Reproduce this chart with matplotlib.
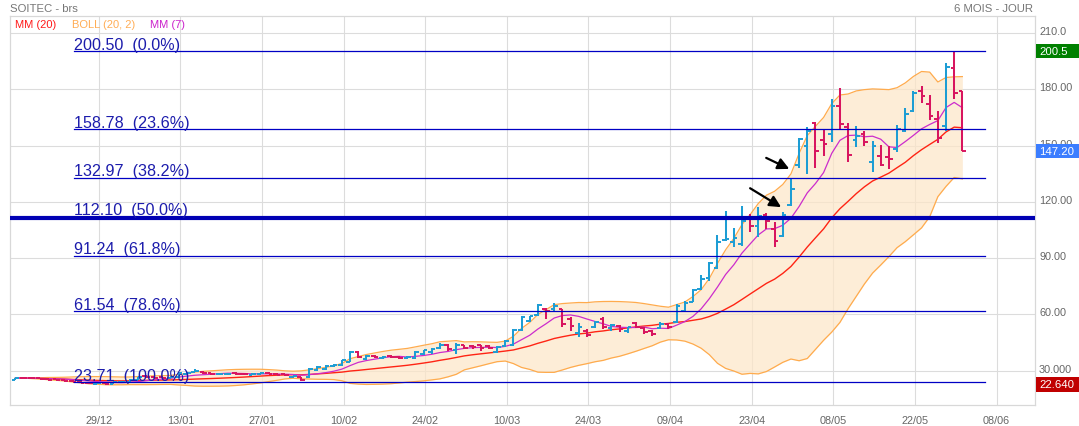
import matplotlib
matplotlib.use('Agg')
import matplotlib.pyplot as plt
import numpy as np
import pandas as pd
from matplotlib import transforms
from matplotlib.patches import Rectangle

plt.rcParams['font.family'] = ['Liberation Sans', 'DejaVu Sans']

# ---------------- data ----------------
opens = [25.2, 26.3, 26.0, 25.8, 25.6, 25.3, 25.0, 24.6, 24.0, 23.6,
         23.0, 23.4, 23.0, 23.7, 23.9, 25.0, 27.2, 26.8, 26.5, 26.0,
         26.5, 28.3, 29.2, 29.4, 28.6, 28.0, 28.2, 28.6, 28.4, 27.9,
         28.2, 28.9, 28.3, 28.0, 26.6, 26.6, 26.4, 30.2, 31.0, 32.3,
         33.0, 34.6, 40.0, 36.0, 37.8, 36.8, 37.8, 37.3, 36.6, 36.8,
         39.0, 39.8, 41.8, 43.8, 41.0, 43.6, 43.3, 43.5, 43.2, 40.0,
         43.0, 43.5, 51.5, 56.2, 59.5, 63.0, 62.8, 62.8, 57.5, 49.9,
         51.3, 53.1, 57.5, 52.5, 54.0, 51.0, 55.5, 52.8, 51.0, 52.8,
         54.8, 55.8, 62.0, 66.5, 73.5, 79.3, 85.0, 99.6, 98.5, 97.6,
         110.9, 107.4, 113.1, 105.6, 102.0, 118.4, 139.7, 150.1, 162.0, 153.0,
         156.3, 171.4, 159.8, 153.0, 156.3, 141.5, 144.4, 144.0, 148.3, 158.0,
         168.7, 179.4, 172.3, 164.3, 160.4, 191.5, 179.4]
highs = [26.2, 26.6, 26.4, 26.2, 25.9, 25.6, 25.4, 24.9, 24.4, 24.0,
         23.6, 23.8, 23.9, 24.2, 25.5, 26.6, 27.8, 27.3, 27.0, 26.9,
         29.0, 29.2, 30.9, 29.6, 28.9, 28.6, 28.7, 29.0, 28.8, 28.6,
         28.7, 29.4, 28.6, 28.3, 27.2, 26.8, 31.3, 32.4, 32.8, 33.6,
         35.7, 40.5, 40.5, 38.2, 38.3, 37.9, 38.3, 37.6, 37.8, 40.3,
         41.2, 41.9, 44.6, 44.0, 44.6, 43.9, 43.8, 43.9, 43.8, 43.3,
         46.3, 52.2, 59.3, 59.3, 65.5, 63.2, 65.9, 62.9, 58.4, 55.2,
         52.2, 56.7, 58.4, 54.9, 54.5, 53.5, 55.8, 53.1, 51.7, 55.8,
         55.3, 65.5, 67.0, 73.5, 81.0, 87.8, 102.6, 115.4, 105.9, 118.0,
         113.6, 117.2, 114.1, 109.2, 114.5, 132.3, 154.0, 159.8, 162.5, 158.9,
         175.0, 180.6, 162.1, 160.4, 158.0, 152.7, 150.4, 150.0, 161.1, 170.0,
         179.4, 182.0, 177.1, 168.7, 194.2, 200.5, 179.4]
lows = [25.0, 25.8, 25.6, 25.3, 25.0, 24.8, 24.4, 23.8, 23.3, 22.9,
        22.64, 22.9, 22.8, 23.3, 23.7, 24.8, 26.3, 26.0, 25.9, 25.8,
        26.3, 27.8, 29.0, 28.3, 27.9, 27.7, 27.8, 27.9, 27.7, 27.6,
        27.8, 28.0, 27.6, 27.3, 26.2, 24.6, 25.9, 29.6, 30.5, 31.8,
        32.6, 34.4, 36.5, 35.5, 36.6, 36.3, 36.9, 36.2, 36.2, 36.4,
        38.3, 39.1, 41.5, 40.5, 38.9, 41.5, 41.6, 40.7, 41.3, 39.4,
        42.4, 43.3, 51.3, 55.8, 59.3, 57.5, 62.0, 53.5, 51.3, 47.8,
        48.1, 52.6, 52.2, 51.3, 50.8, 49.9, 52.6, 49.5, 48.6, 52.2,
        52.2, 55.2, 61.1, 66.4, 72.8, 78.0, 84.2, 99.4, 95.8, 96.7,
        103.8, 101.2, 105.6, 95.8, 101.2, 118.0, 138.0, 134.9, 138.0, 144.7,
        151.8, 158.9, 141.5, 149.2, 149.7, 135.8, 139.4, 137.6, 146.8, 157.5,
        168.2, 172.8, 163.9, 151.5, 158.0, 175.0, 147.2]
closes = [26.0, 26.0, 25.8, 25.6, 25.2, 25.0, 24.6, 24.0, 23.6, 23.2,
          23.4, 23.1, 23.7, 23.9, 25.2, 26.4, 26.6, 26.3, 26.2, 26.6,
          28.5, 28.8, 29.6, 28.6, 28.1, 28.3, 28.4, 28.1, 28.0, 28.4,
          28.5, 28.3, 27.8, 27.5, 26.9, 25.2, 30.8, 31.8, 32.3, 33.2,
          35.4, 40.0, 37.2, 37.6, 37.0, 37.4, 37.3, 36.7, 37.4, 39.8,
          40.8, 41.5, 43.9, 41.4, 43.4, 42.2, 42.5, 41.8, 42.0, 42.8,
          45.8, 51.8, 58.8, 59.0, 65.0, 61.8, 64.2, 55.0, 54.0, 53.5,
          49.2, 55.8, 53.1, 54.3, 52.0, 53.0, 53.5, 50.8, 49.6, 55.0,
          53.4, 64.5, 66.3, 72.8, 79.0, 87.5, 98.5, 100.4, 100.6, 110.0,
          107.0, 112.7, 110.0, 99.4, 113.1, 127.0, 153.6, 158.0, 147.4, 151.0,
          171.4, 161.6, 145.0, 155.0, 151.8, 149.7, 139.7, 143.0, 159.0, 167.0,
          178.2, 176.4, 166.0, 154.1, 191.8, 178.2, 147.2]

date_labels = ['29/12', '13/01', '27/01', '10/02', '24/02', '10/03',
               '24/03', '09/04', '23/04', '08/05', '22/05', '08/06']
date_pos = [10.2 + 10 * k for k in range(len(date_labels))]

fib_levels = [200.50, 158.78, 132.97, 112.10, 91.24, 61.54, 23.71]
fib_pcts = ['0.0%', '23.6%', '38.2%', '50.0%', '61.8%', '78.6%', '100.0%']
hline_level = 111.2

ytick_vals = [210, 180, 150, 120, 90, 60, 30]
ytick_labels = ['210.0', '180.00', '150.00', '120.00', '90.00', '60.00', '30.000']

tags = [(200.5, '200.5', '#008000'), (147.2, '147.20', '#3b7dff'), (22.64, '22.640', '#c00000')]

# arrows (tail, tip) in data coords
arrows = [((91.97, 143.5), (94.8, 137.6)), ((90.0, 127.3), (93.8, 117.2))]

# ---------------- figure ----------------
W, H = 1079, 427
fig = plt.figure(figsize=(W / 100, H / 100), dpi=100)
ax = fig.add_axes([10 / W, (H - 405.7) / H, (1035 - 10) / W, (405.7 - 17) / H])
ax.set_xlim(-0.67, 124.9)
ax.set_ylim(11.8, 219.2)

x = np.arange(len(closes))
c = pd.Series(closes)
mm20 = c.rolling(20, min_periods=1).mean()
sd20 = c.rolling(20, min_periods=1).std(ddof=0)
up = mm20 + 2 * sd20
lo = mm20 - 2 * sd20
mm7 = c.rolling(7, min_periods=1).mean()

# grid
ax.set_xticks(date_pos)
ax.set_xticklabels(date_labels)
ax.set_yticks(ytick_vals)
ax.set_yticklabels([])
ax.grid(True, color='#dcdcdc', lw=0.8)
ax.set_axisbelow(True)
ax.tick_params(axis='both', length=0)
ax.tick_params(axis='x', colors='#666666', labelsize=7.8, pad=7.5)
for s in ax.spines.values():
    s.set_color('#d8d8d8')
    s.set_linewidth(0.9)

# Bollinger
ax.fill_between(x, lo, up, color='#fde6c8', alpha=0.72, lw=0, zorder=1)
ax.plot(x, up, color='#ffab4d', lw=0.9, zorder=2)
ax.plot(x, lo, color='#ffab4d', lw=0.9, zorder=2)
ax.plot(x, mm20, color='#ff2414', lw=1.0, zorder=2.2)
ax.plot(x, mm7, color='#cc2ccc', lw=0.9, zorder=2.3)

# OHLC bars
o = np.array(opens); h = np.array(highs); l = np.array(lows); cl = np.array(closes)
cols = np.where(cl >= o, '#1d9dd4', '#d8155f')
ax.vlines(x, l, h, colors=cols, lw=1.45, zorder=3)
ax.hlines(o, x - 0.45, x, colors=cols, lw=1.4, zorder=3)
ax.hlines(cl, x, x + 0.45, colors=cols, lw=1.4, zorder=3)

# Fibonacci levels
fx0, fx1 = 7.17, 118.8
for lvl, pct in zip(fib_levels, fib_pcts):
    ax.plot([fx0, fx1], [lvl, lvl], color='#0000c4', lw=0.9, zorder=4)
    ax.text(fx0, lvl, f'{lvl:.2f}  ({pct})', color='#1c1cac', fontsize=11.6,
            ha='left', va='baseline', zorder=5,
            transform=ax.transData + transforms.ScaledTranslation(0, 2.5 / 100, fig.dpi_scale_trans))
ax.axhline(hline_level, color='#0000b4', lw=3.0, zorder=4.5)

# arrows
for tail, tip in arrows:
    ax.annotate('', xy=tip, xytext=tail,
                arrowprops=dict(arrowstyle='-|>', color='black', lw=1.6,
                                mutation_scale=17, shrinkA=0, shrinkB=0),
                zorder=6)

# right axis labels
bt = transforms.blended_transform_factory(fig.transFigure, ax.transData)
for v, lab in zip(ytick_vals, ytick_labels):
    fig.text(1039 / W, v, lab, color='#666666', fontsize=7.8, ha='left', va='center',
             transform=bt + transforms.ScaledTranslation(0, 2 / 100, fig.dpi_scale_trans))

# value tags
bh = 14.5 / 1.874
for v, lab, col in tags:
    r = Rectangle((1036 / W, v - bh / 2), (W - 1036) / W, bh, transform=bt,
                  facecolor=col, edgecolor='none', clip_on=False, zorder=10)
    fig.add_artist(r)
    fig.text(1039 / W, v, lab, color='white', fontsize=8.2, ha='left', va='center',
             transform=bt, zorder=11)

# header texts
fig.text(10 / W, 1 - 9 / H, 'SOITEC - brs', color='#777777', fontsize=8.2, ha='left', va='center')
fig.text(1033 / W, 1 - 9 / H, '6 MOIS - JOUR', color='#777777', fontsize=8.2, ha='right', va='center')
fig.text(15 / W, 1 - 25 / H, 'MM (20)', color='#ff1a1a', fontsize=8.0, ha='left', va='center')
fig.text(72 / W, 1 - 25 / H, 'BOLL (20, 2)', color='#ffad55', fontsize=8.0, ha='left', va='center')
fig.text(150 / W, 1 - 25 / H, 'MM (7)', color='#cc22cc', fontsize=8.0, ha='left', va='center')

fig.savefig('out.png', dpi=100)
